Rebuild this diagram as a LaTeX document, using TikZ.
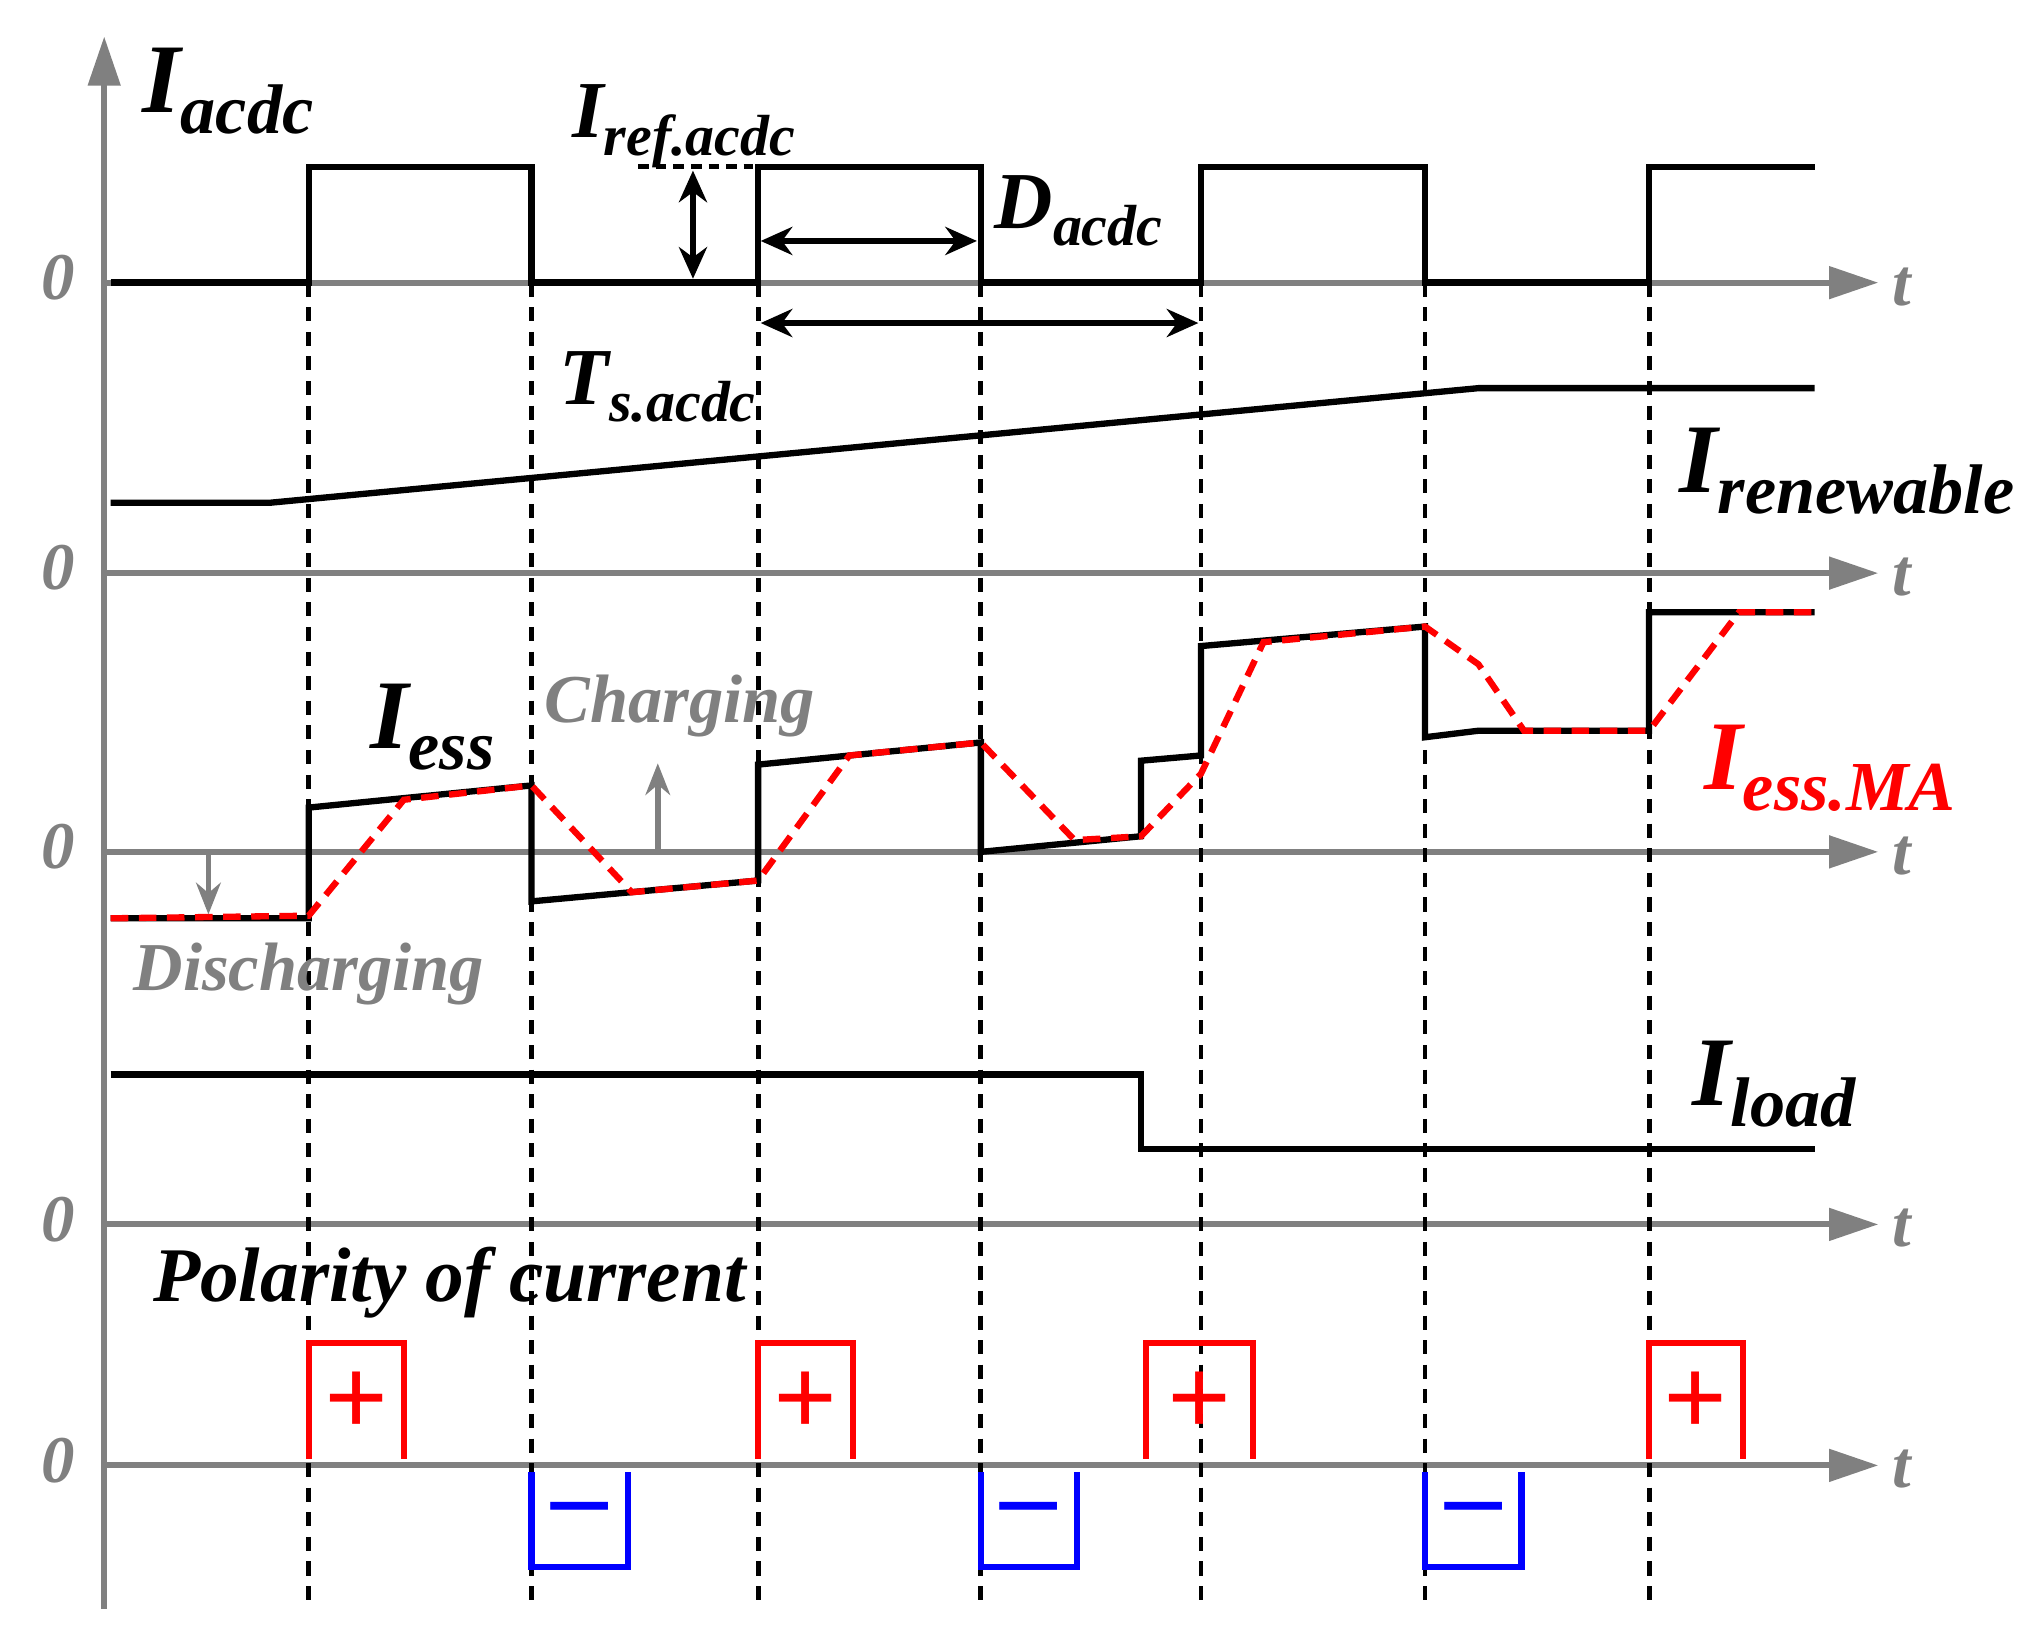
\documentclass[tikz,border=0pt]{standalone}
\usepackage{fontspec}
\setmainfont{Liberation Serif}
\usetikzlibrary{arrows.meta}
\definecolor{ax}{RGB}{128,128,128}
\definecolor{rd}{RGB}{255,0,0}
\definecolor{bl}{RGB}{0,0,255}
\newcommand{\bigI}[2]{{\fontsize{28}{28}\selectfont\bfseries\itshape #1}\raisebox{-6pt}{\fontsize{20}{20}\selectfont\bfseries\itshape #2}}
\newcommand{\midI}[2]{{\fontsize{23}{23}\selectfont\bfseries\itshape #1}\raisebox{-5pt}{\fontsize{16.5}{16.5}\selectfont\bfseries\itshape #2}}
\begin{document}
\begin{tikzpicture}[x=0.013026cm,y=-0.013026cm,
  axis/.style={ax,line width=1.7pt,-{Triangle[length=14pt,width=9pt]}},
  sig/.style={black,line width=1.8pt},
  ma/.style={rd,line width=1.8pt,dash pattern=on 5pt off 3pt},
  vdash/.style={black,line width=1.4pt,dash pattern=on 4pt off 3pt},
  zero/.style={ax,font=\fontsize{19}{19}\selectfont\bfseries\itshape},
  lbl/.style={inner sep=0pt},
  gl/.style={ax,font=\fontsize{19.5}{19.5}\selectfont\bfseries\itshape,inner sep=0pt},
  dbl/.style={black,line width=1.8pt,{Stealth[length=9pt,width=8pt]}-{Stealth[length=9pt,width=8pt]}},
  gar/.style={ax,line width=1.6pt,-{Stealth[length=9pt,width=7pt]}},
  pbox/.style={rd,line width=1.8pt},
  nbox/.style={bl,line width=1.8pt}]
\useasboundingbox (0,0) rectangle (1560,1253);
\coordinate (vb) at (80,1235); \coordinate (vt) at (80,28);
\draw[axis] (vb) -- (vt);
\foreach \y/\n in {217/a,440/b,654/c,940/d,1125/e}{
  \coordinate (h\n s) at (80,\y); \coordinate (h\n e) at (1442,\y);
  \draw[axis] (h\n s) -- (h\n e);
  \node[zero] (z\n) at (45,\y-4) {0};
  \node[zero] (t\n) at (1460,\y+3) {t};
}
\foreach \x/\n in {237/1,408/2,582/3,753/4,922/5,1094/6,1266/7}{
  \coordinate (d\n t) at (\x,217); \coordinate (d\n b) at (\x,1235);
  \draw[vdash] (d\n t) -- (d\n b);
}
\draw[sig] (85,217) -- (237,217) -- (237,128) -- (408,128) -- (408,217) -- (582,217) -- (582,128) -- (753,128) -- (753,217) -- (922,217) -- (922,128) -- (1094,128) -- (1094,217) -- (1266,217) -- (1266,128) -- (1393,128);
\coordinate (r1) at (490,128); \coordinate (r2) at (578,128);
\draw[black,line width=1.3pt,dash pattern=on 3pt off 2pt] (r1) -- (r2);
\coordinate (va1) at (532,131); \coordinate (va2) at (532,214);
\draw[dbl] (va1) -- (va2);
\coordinate (da1) at (584,185); \coordinate (da2) at (750,185);
\draw[dbl] (da1) -- (da2);
\coordinate (ta1) at (584,248); \coordinate (ta2) at (920,248);
\draw[dbl] (ta1) -- (ta2);
\node[lbl] (Lacdc) at (175,70) {\bigI{I}{acdc}};
\node[lbl] (Lref) at (525,97) {\midI{I}{ref.acdc}};
\node[lbl] (LD) at (828,162) {\midI{D}{acdc}};
\node[lbl] (LT) at (505,297) {\midI{T}{s.acdc}};
\draw[sig] (85,386) -- (207,386) -- (1135,298) -- (1393,298);
\node[lbl] (Lren) at (1418,362) {\bigI{I}{renewable}};
\draw[sig] (85,705) -- (237,705) -- (237,620) -- (408,603) -- (408,692) -- (582,676) -- (582,587) -- (753,570) -- (753,654) -- (876,642) -- (876,584) -- (922,580) -- (922,496) -- (1094,481) -- (1094,566) -- (1135,561) -- (1266,561) -- (1266,470) -- (1393,470);
\draw[ma] (85,705) -- (237,703) -- (310,614) -- (408,603) -- (485,685) -- (582,676) -- (652,580) -- (753,570) -- (825,645) -- (876,642) -- (922,594) -- (970,493) -- (1094,481) -- (1135,510) -- (1170,561) -- (1266,561) -- (1335,470) -- (1393,470);
\node[lbl] (Less) at (332,558) {\bigI{I}{ess}};
\node[lbl] (Lma) at (1405,590) {\color{rd}\bigI{I}{ess.MA}};
\node[gl] (Lch) at (522,542) {Charging};
\node[gl] (Ldis) at (237,748) {Discharging};
\coordinate (ca1) at (505,654); \coordinate (ca2) at (505,586);
\draw[gar] (ca1) -- (ca2);
\coordinate (dc1) at (160,654); \coordinate (dc2) at (160,702);
\draw[gar] (dc1) -- (dc2);
\draw[sig] (85,825) -- (876,825) -- (876,882) -- (1393,882);
\node[lbl] (Lload) at (1362,832) {\bigI{I}{load}};
\node[lbl] (Lpol) at (345,985) {\fontsize{22}{22}\selectfont\bfseries\itshape Polarity of current};
\foreach \a/\b/\n in {237/310/1,582/655/2,880/962/3,1266/1338/4}{
  \draw[pbox] (\a,1120) -- (\a,1031) -- (\b,1031) -- (\b,1120);
  \node[rd,inner sep=0pt,font=\fontsize{32}{32}\selectfont\bfseries] (p\n) at ({(\a+\b)/2},1078) {+};
}
\foreach \a/\b/\n in {408/482/1,753/827/2,1094/1168/3}{
  \draw[nbox] (\a,1130) -- (\a,1203) -- (\b,1203) -- (\b,1130);
  \node[bl,inner sep=0pt,font=\fontsize{32}{32}\selectfont\bfseries] (m\n) at ({(\a+\b)/2},1165) {\textendash};
}
\end{tikzpicture}
\end{document}
